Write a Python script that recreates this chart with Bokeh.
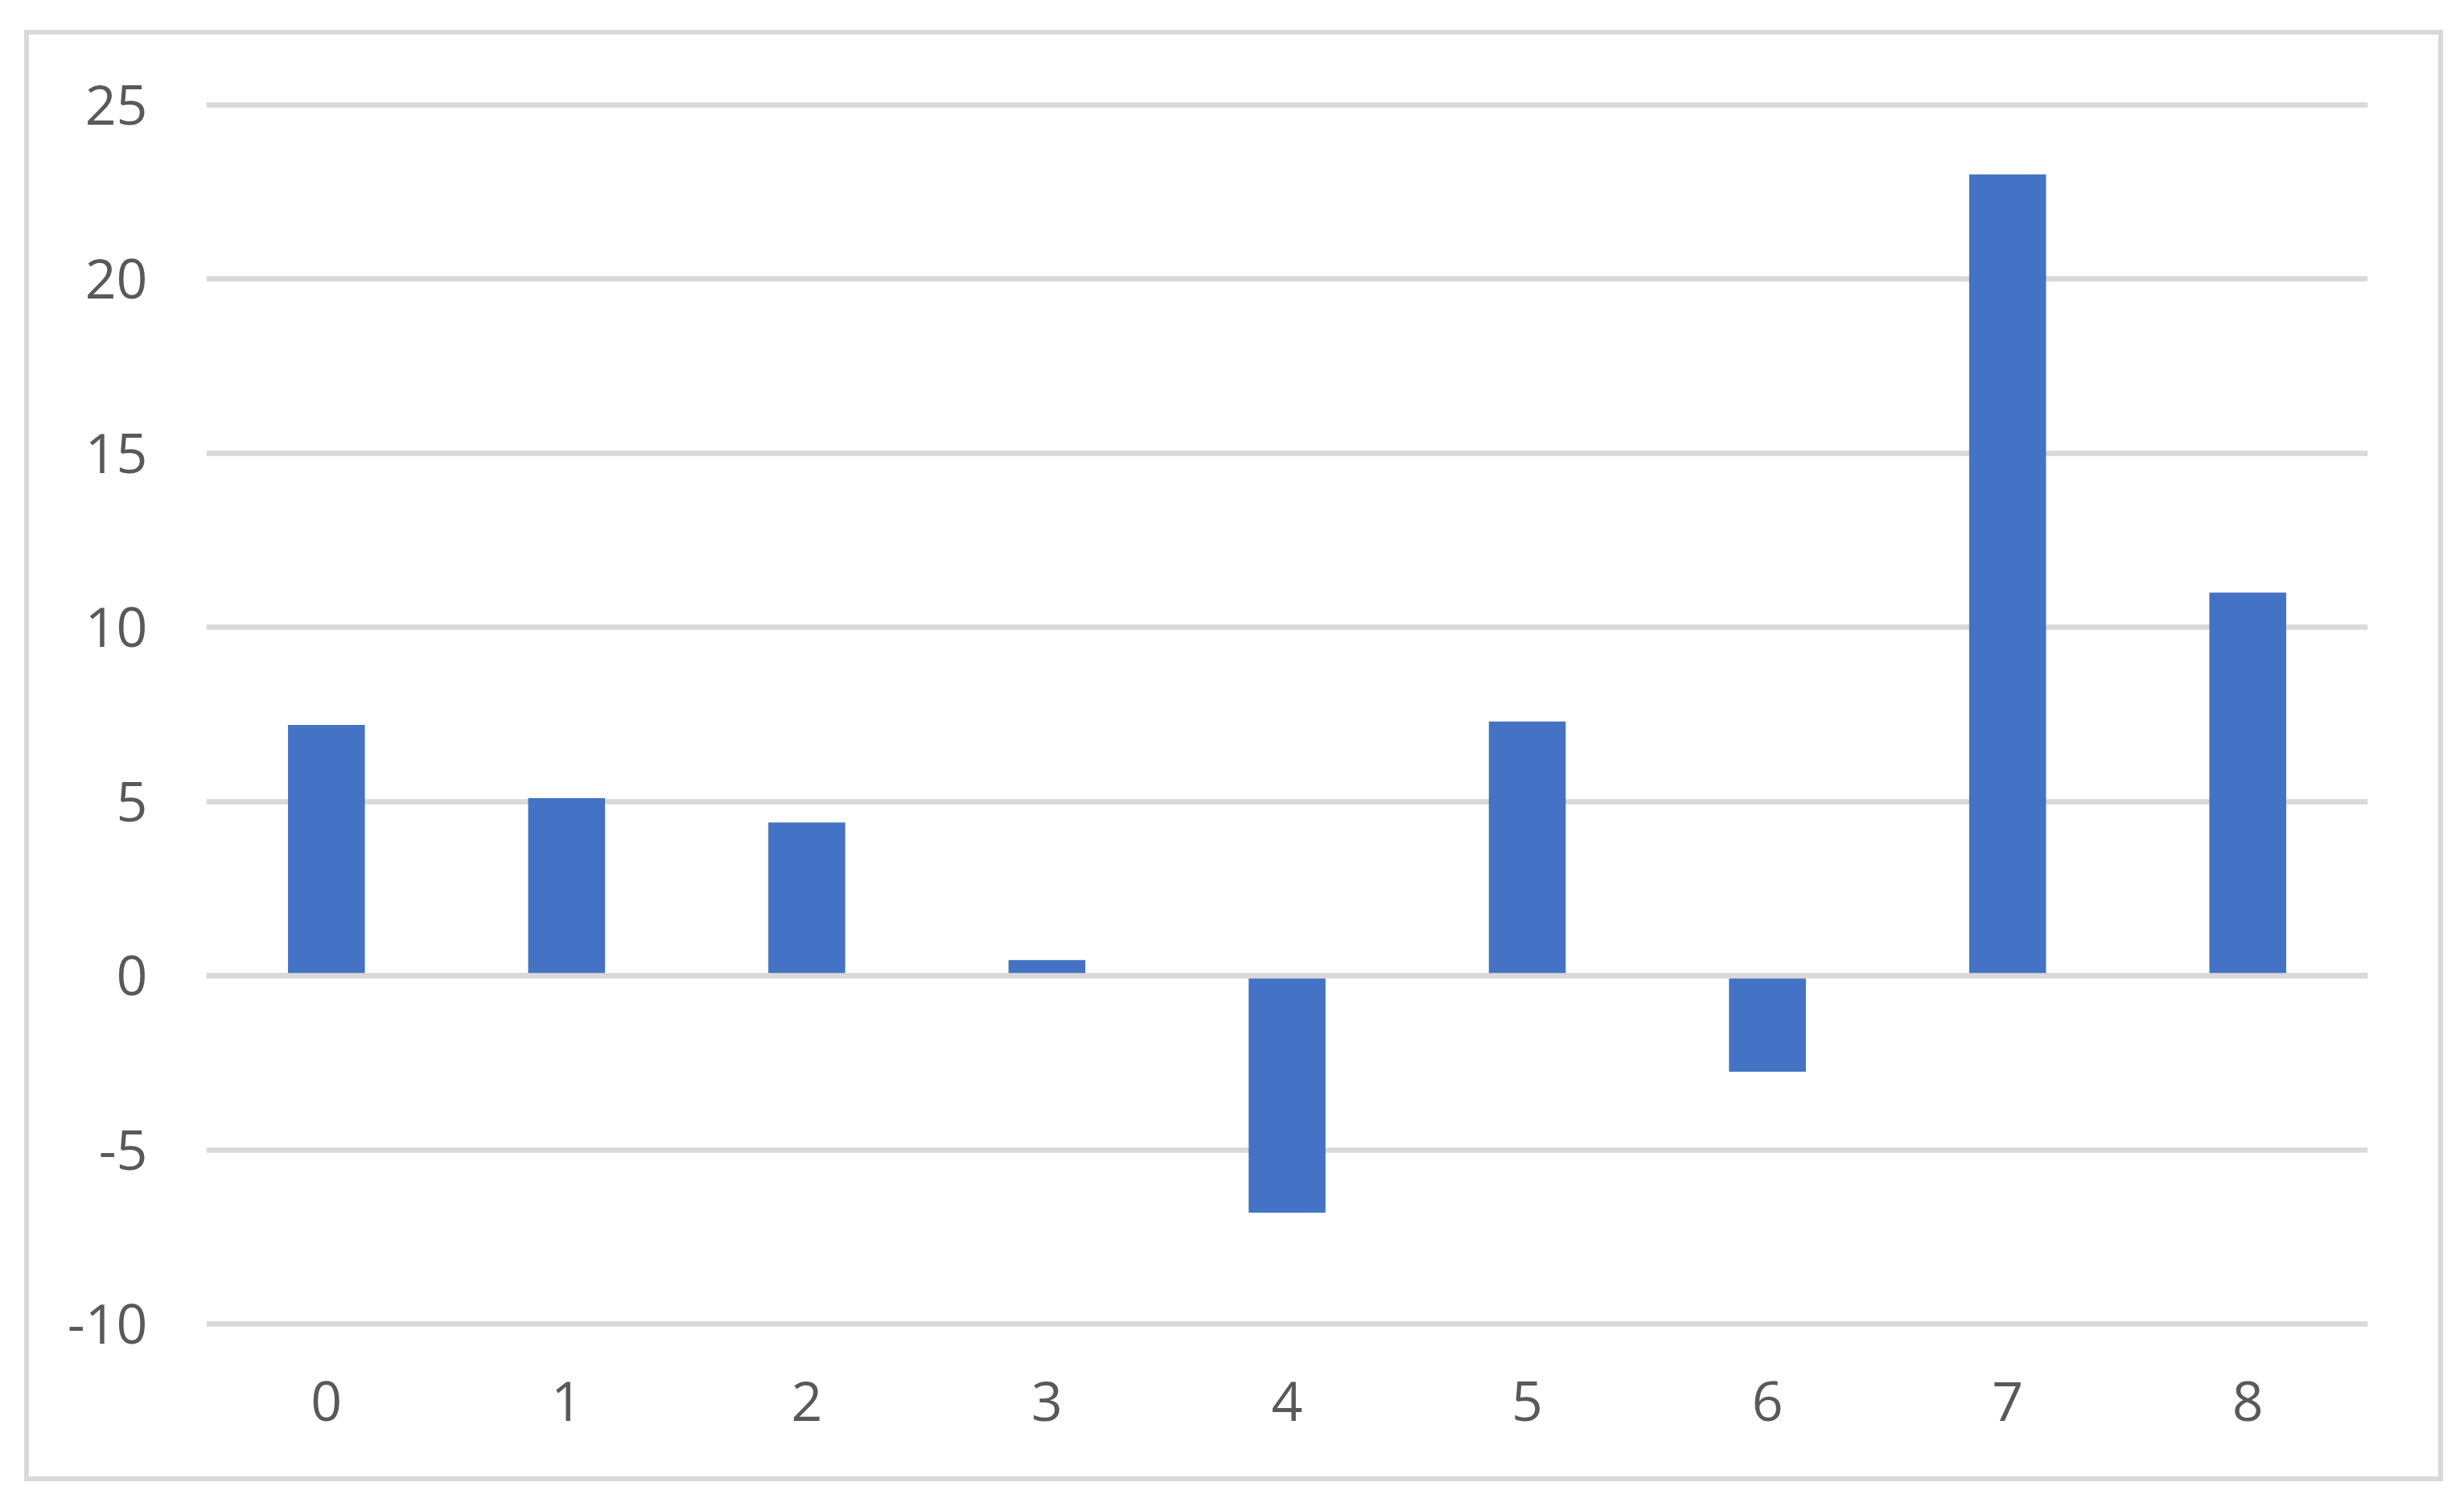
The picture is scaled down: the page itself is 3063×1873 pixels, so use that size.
from bokeh.plotting import figure
from bokeh.models import FactorRange, Range1d, FixedTicker, Span, ColumnDataSource
from bokeh.embed import file_html
from bokeh.resources import INLINE

categories = ["0", "1", "2", "3", "4", "5", "6", "7", "8"]
values = [7.2, 5.1, 4.4, 0.45, -6.8, 7.3, -2.75, 23.0, 11.0]
y_ticks = [-10, -5, 0, 5, 10, 15, 20, 25]

src = ColumnDataSource(dict(x=categories, top=values))

p = figure(
    x_range=FactorRange(*categories, range_padding=0),
    y_range=Range1d(-10.2, 25.2),
    width=3007, height=1804,
    output_backend="svg", toolbar_location=None,
    min_border_left=220, min_border_right=100,
    min_border_top=78, min_border_bottom=193,
)
p.margin = (37, 0, 0, 30)
p.styles = {"border": "6px solid #d9d9d9"}
p.background_fill_color = "white"
p.border_fill_color = "white"
p.outline_line_color = None

p.vbar(x="x", top="top", bottom=0, width=0.32, fill_color="#4472C4",
       line_color=None, source=src)

p.xgrid.visible = False
p.ygrid.ticker = FixedTicker(ticks=y_ticks)
p.ygrid.grid_line_color = "#d9d9d9"
p.ygrid.grid_line_width = 6.5

zero = Span(location=0, dimension="width", line_color="#d9d9d9",
            line_width=7, level="overlay")
p.add_layout(zero)

p.yaxis.ticker = FixedTicker(ticks=y_ticks)
p.yaxis.major_label_overrides = {t: str(t) for t in y_ticks}
for ax in (p.xaxis, p.yaxis):
    ax.axis_line_color = None
    ax.major_tick_line_color = None
    ax.minor_tick_line_color = None
    ax.major_tick_out = 0
    ax.major_tick_in = 0
    ax.minor_tick_out = 0
    ax.minor_tick_in = 0
    ax.major_label_text_font = "Open Sans"
    ax.major_label_text_font_size = "68px"
    ax.major_label_text_color = "#595959"
p.yaxis.major_label_standoff = 73
p.xaxis.major_label_standoff = 62

open("out.html", "w").write(file_html(p, INLINE))
